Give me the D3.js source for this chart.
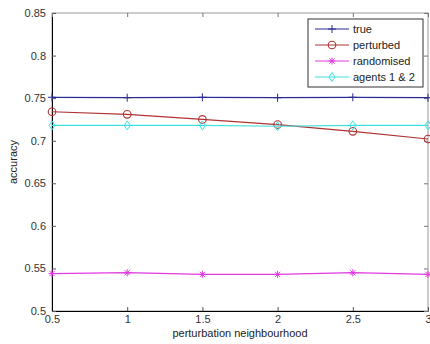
<!DOCTYPE html>
<html>
<head>
<meta charset="utf-8">
<script src="https://cdn.jsdelivr.net/npm/d3@7"></script>
<style>
  body { margin: 0; background: #fff; }
  text { font-family: "Liberation Sans", Arial, sans-serif; }
</style>
</head>
<body>
<div class="content"></div>
<script>
const WIDTH = 430
const HEIGHT = 344

// data
const neighbourhood = [0.5, 1, 1.5, 2, 2.5, 3]
const trueAcc = [0.751, 0.7505, 0.751, 0.7505, 0.751, 0.7505]
const perturbedAcc = [0.734, 0.731, 0.725, 0.719, 0.711, 0.702]
const randomisedAcc = [0.544, 0.545, 0.543, 0.543, 0.545, 0.543]
const agentsAcc = [0.718, 0.718, 0.718, 0.717, 0.718, 0.718]
const xTicks = [0.5, 1, 1.5, 2, 2.5, 3]
const yTicks = [0.5, 0.55, 0.6, 0.65, 0.7, 0.75, 0.8, 0.85]

const series = [
  {name: "true", values: trueAcc, color: "#2a2a96", marker: "plus"},
  {name: "perturbed", values: perturbedAcc, color: "#b03232", marker: "circle"},
  {name: "randomised", values: randomisedAcc, color: "#e03ae0", marker: "star"},
  {name: "agents 1 & 2", values: agentsAcc, color: "#3fe0e0", marker: "diamond"}
]

const svg = d3.select(".content").append("svg").attr("width", WIDTH).attr("height", HEIGHT)

const x0 = 52, x1 = 428, y0 = 311, y1 = 13
const xscale = d3.scaleLinear().domain([0.5, 3]).range([x0, x1])
const yscale = d3.scaleLinear().domain([0.5, 0.85]).range([y0, y1])

// box
svg.append("rect").attr("x", x0).attr("y", y1).attr("width", x1 - x0).attr("height", y0 - y1)
  .attr("fill", "none").attr("stroke", "#999").attr("stroke-width", 1)

// axes, ticks pointing inward
const xaxis = d3.axisBottom(xscale).tickValues(xTicks).tickSizeInner(-4).tickSizeOuter(0).tickPadding(6)
  .tickFormat(d3.format("~g"))
const yaxis = d3.axisLeft(yscale).tickValues(yTicks).tickSizeInner(-4).tickSizeOuter(0).tickPadding(6)
  .tickFormat(d3.format("~g"))

const xg = svg.append("g").attr("transform", `translate(0,${y0})`).call(xaxis)
const yg = svg.append("g").attr("transform", `translate(${x0},0)`).call(yaxis)
xg.selectAll(".tick text").attr("dy", "0.55em")
for (const g of [xg, yg]) {
  g.select(".domain").attr("stroke", "#000")
  g.selectAll(".tick line").attr("stroke", "#555")
  g.selectAll(".tick text").attr("fill", "#333").style("font-size", "11px")
}
// top / right ticks
svg.append("g").attr("transform", `translate(0,${y1})`)
  .call(d3.axisTop(xscale).tickValues(xTicks).tickSizeInner(-4).tickSizeOuter(0).tickFormat(""))
  .call(g => { g.select(".domain").remove(); g.selectAll("line").attr("stroke", "#777") })
svg.append("g").attr("transform", `translate(${x1},0)`)
  .call(d3.axisRight(yscale).tickValues(yTicks).tickSizeInner(-4).tickSizeOuter(0).tickFormat(""))
  .call(g => { g.select(".domain").remove(); g.selectAll("line").attr("stroke", "#777") })

// axis labels
svg.append("text").attr("x", (x0 + x1) / 2).attr("y", 337).attr("text-anchor", "middle")
  .style("font-size", "11px").attr("fill", "#222").text("perturbation neighbourhood")
svg.append("text").attr("transform", `translate(17,${(y0 + y1) / 2}) rotate(-90)`).attr("text-anchor", "middle")
  .style("font-size", "11px").attr("fill", "#222").text("accuracy")

function drawMarker(g, type, cx, cy, color) {
  const s = 4
  if (type === "plus") {
    g.append("path").attr("d", `M${cx - s},${cy}H${cx + s}M${cx},${cy - s}V${cy + s}`).attr("stroke", color).attr("fill", "none")
  } else if (type === "circle") {
    g.append("circle").attr("cx", cx).attr("cy", cy).attr("r", 3.8).attr("stroke", color).attr("fill", "none").attr("stroke-width", 1.1)
  } else if (type === "star") {
    const d = 2.6
    g.append("path").attr("d", `M${cx - 3.5},${cy}H${cx + 3.5}M${cx},${cy - 3.5}V${cy + 3.5}M${cx - d},${cy - d}L${cx + d},${cy + d}M${cx - d},${cy + d}L${cx + d},${cy - d}`)
      .attr("stroke", color).attr("fill", "none")
  } else if (type === "diamond") {
    g.append("path").attr("d", `M${cx},${cy - 4.5}L${cx + 3},${cy}L${cx},${cy + 4.5}L${cx - 3},${cy}Z`).attr("stroke", color).attr("fill", "none")
  }
}

const line = d3.line().x((d, i) => xscale(neighbourhood[i])).y(d => yscale(d))
const plot = svg.append("g")
series.forEach(s => {
  plot.append("path").attr("d", line(s.values)).attr("fill", "none").attr("stroke", s.color).attr("stroke-width", 1.2)
  s.values.forEach((v, i) => drawMarker(plot, s.marker, xscale(neighbourhood[i]), yscale(v), s.color))
})

// legend
const lg = svg.append("g")
lg.append("rect").attr("x", 308).attr("y", 19).attr("width", 115).attr("height", 68)
  .attr("fill", "#fff").attr("stroke", "#333")
series.forEach((s, i) => {
  const ly = 29 + i * 16
  lg.append("line").attr("x1", 315).attr("x2", 349).attr("y1", ly).attr("y2", ly).attr("stroke", s.color).attr("stroke-width", 1.2)
  drawMarker(lg, s.marker, 332, ly, s.color)
  lg.append("text").attr("x", 353).attr("y", ly + 4).style("font-size", "11px").attr("fill", "#222").text(s.name)
})
</script>
</body>
</html>
